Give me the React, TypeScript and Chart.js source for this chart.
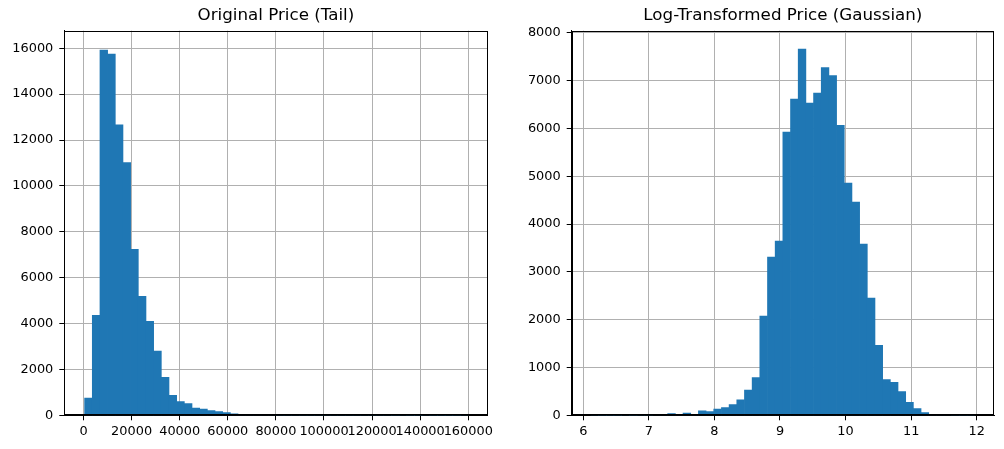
import React, { useEffect, useRef } from "react";
import { Chart, registerables } from "chart.js";

Chart.register(...registerables);

// ---- Data ----
const leftTitle = "Original Price (Tail)";
const leftCounts = [
  754, 4362, 15925, 15751, 12665, 11013, 7231, 5188, 4101, 2797,
  1660, 870, 594, 507, 319, 275, 203, 159, 116, 60,
  45, 30, 20, 15, 12, 9, 7, 6, 5, 4,
  3, 3, 2, 2, 2, 1, 1, 1, 1, 1,
  0, 1, 0, 0, 1, 0, 0, 0, 0, 1,
];
const leftBinStart = 450;
const leftBinWidth = 3190;
const leftXTicks = [0, 20000, 40000, 60000, 80000, 100000, 120000, 140000, 160000];
const leftYTicks = [0, 2000, 4000, 6000, 8000, 10000, 12000, 14000, 16000];

const rightTitle = "Log-Transformed Price (Gaussian)";
const rightCounts = [
  1, 0, 0, 0, 1, 0, 2, 3, 14, 16,
  35, 14, 49, 14, 91, 77, 132, 160, 223, 321,
  530, 788, 2077, 3310, 3645, 5923, 6613, 7659, 6530, 6739,
  7275, 7108, 6063, 4857, 4460, 3582, 2453, 1465, 745, 692,
  496, 272, 140, 56, 21, 21, 6, 3, 2, 1,
];
const rightBinStart = 6.116;
const rightBinWidth = 0.1171;
const rightXTicks = [6, 7, 8, 9, 10, 11, 12];
const rightYTicks = [0, 1000, 2000, 3000, 4000, 5000, 6000, 7000, 8000];

const FONT = "'DejaVu Sans', sans-serif";
const BAR = "#1f77b4";
const GRID = "#b0b0b0";

const framePlugin = {
  id: "frame",
  afterDraw(chart: any) {
    const { ctx, chartArea: a } = chart;
    ctx.save();
    ctx.strokeStyle = "#000";
    ctx.lineWidth = 1;
    const l = Math.round(a.left) + 0.5;
    const t = Math.round(a.top) + 0.5;
    const r = Math.round(a.right) - 0.5;
    const b = Math.round(a.bottom) - 0.5;
    ctx.strokeRect(l, t, r - l, b - t);
    ctx.restore();
  },
};

type Spec = {
  title: string;
  counts: number[];
  binStart: number;
  binWidth: number;
  xMin: number;
  xMax: number;
  yMax: number;
  xTicks: number[];
  yTicks: number[];
  yAxisWidth: number;
  rightPad: number;
};

function makeConfig(s: Spec): any {
  const data = s.counts.map((c, i) => ({ x: s.binStart + s.binWidth * (i + 0.5), y: c }));
  const tickFont = { family: FONT, size: 12.9, weight: "normal" as const };
  return {
    type: "bar",
    data: {
      datasets: [
        {
          data,
          backgroundColor: BAR,
          borderWidth: 0,
          barPercentage: 1,
          categoryPercentage: 1,
          grouped: false,
        },
      ],
    },
    options: {
      animation: false,
      responsive: false,
      devicePixelRatio: 1,
      layout: { padding: { left: 0, right: s.rightPad, top: 0, bottom: 0 } },
      plugins: {
        legend: { display: false },
        tooltip: { enabled: false },
        title: {
          display: true,
          text: s.title,
          color: "#000",
          font: { family: FONT, size: 16.7, weight: "normal", lineHeight: 1.2 },
          padding: { top: 6, bottom: 4.66 },
          fullSize: false,
        },
      },
      scales: {
        x: {
          type: "linear",
          min: s.xMin,
          max: s.xMax,
          offset: false,
          z: 1,
          afterBuildTicks: (sc: any) => {
            sc.ticks = s.xTicks.map((v) => ({ value: v }));
          },
          afterFit: (sc: any) => {
            sc.height = 33.7;
          },
          grid: { color: GRID, tickColor: "#000", tickLength: 5, lineWidth: 1, offset: false },
          border: { display: true, color: "#000", width: 1 },
          ticks: {
            autoSkip: false,
            maxRotation: 0,
            minRotation: 0,
            padding: 4,
            color: "#000",
            font: tickFont,
            callback: (v: any) => String(v),
          },
        },
        y: {
          type: "linear",
          min: 0,
          max: s.yMax,
          z: 1,
          afterBuildTicks: (sc: any) => {
            sc.ticks = s.yTicks.map((v) => ({ value: v }));
          },
          afterFit: (sc: any) => {
            sc.width = s.yAxisWidth;
          },
          grid: { color: GRID, tickColor: "#000", tickLength: 5, lineWidth: 1 },
          border: { display: true, color: "#000", width: 1 },
          ticks: {
            autoSkip: false,
            padding: 6,
            color: "#000",
            font: tickFont,
            callback: (v: any) => String(v),
          },
        },
      },
    },
    plugins: [framePlugin],
  };
}

function Hist({ spec, left, width }: { spec: Spec; left: number; width: number }) {
  const ref = useRef<HTMLCanvasElement | null>(null);
  useEffect(() => {
    if (!ref.current) return;
    const chart = new Chart(ref.current, makeConfig(spec));
    return () => chart.destroy();
  }, [spec]);
  return (
    <canvas
      ref={ref}
      width={width}
      height={449}
      style={{ position: "absolute", left, top: 0, width, height: 449 }}
    />
  );
}

const leftSpec: Spec = {
  title: leftTitle,
  counts: leftCounts,
  binStart: leftBinStart,
  binWidth: leftBinWidth,
  xMin: -8000,
  xMax: 168000,
  yMax: 16765,
  xTicks: leftXTicks,
  yTicks: leftYTicks,
  yAxisWidth: 64.3,
  rightPad: 12.5,
};

const rightSpec: Spec = {
  title: rightTitle,
  counts: rightCounts,
  binStart: rightBinStart,
  binWidth: rightBinWidth,
  xMin: 5.823,
  xMax: 12.264,
  yMax: 8045,
  xTicks: rightXTicks,
  yTicks: rightYTicks,
  yAxisWidth: 71.7,
  rightPad: 10,
};

export default function App() {
  return (
    <div
      style={{
        position: "absolute",
        left: 0,
        top: 0,
        width: 1004,
        height: 449,
        background: "#fff",
        overflow: "hidden",
      }}
    >
      <Hist spec={leftSpec} left={0} width={500} />
      <Hist spec={rightSpec} left={500} width={504} />
    </div>
  );
}
